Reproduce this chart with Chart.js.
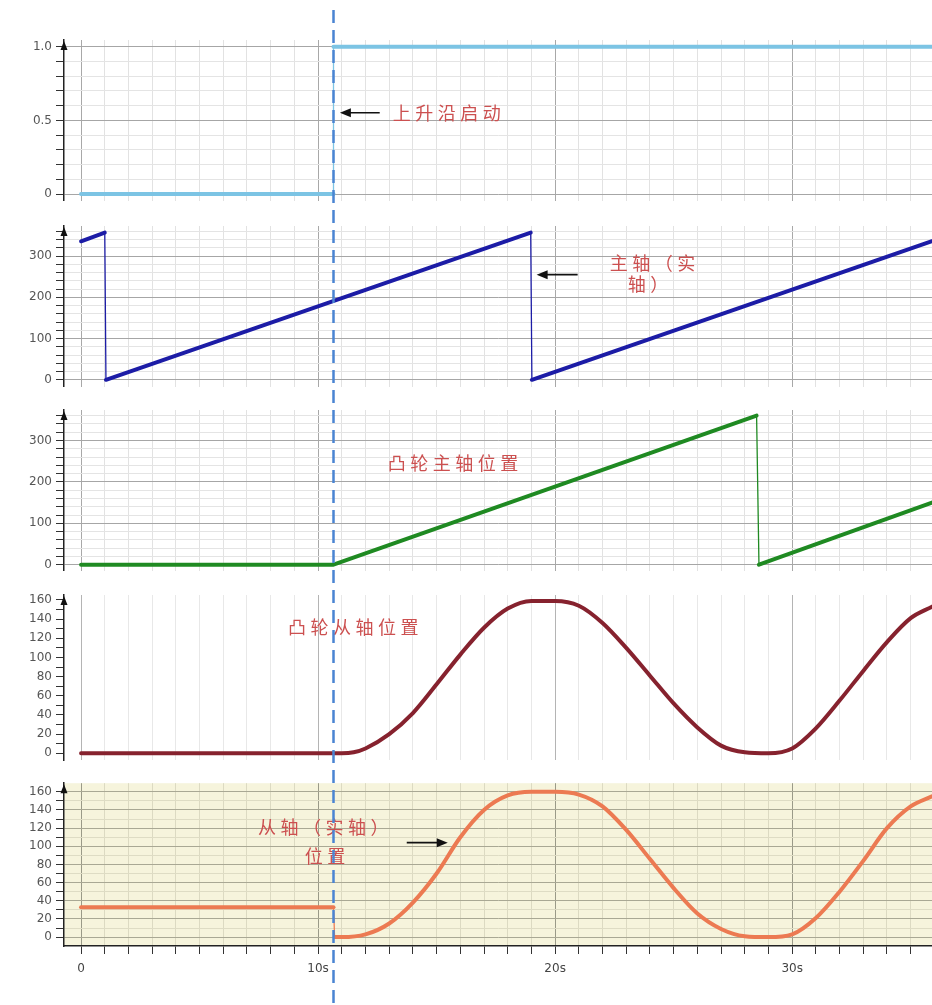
<!DOCTYPE html>
<html>
<head>
<meta charset="utf-8">
<script src="https://cdn.jsdelivr.net/npm/chart.js@4.4.0/dist/chart.umd.min.js"></script>
<style>
  body { margin: 0; background: #fff; }
  #wrap { position: relative; width: 932px; height: 1005px; overflow: hidden; }
  #wrap canvas { position: absolute; left: 0; }
</style>
</head>
<body>
<div id="wrap">
  <canvas id="p1" width="932" height="212" style="top:0px"></canvas>
  <canvas id="p2" width="932" height="186" style="top:212px"></canvas>
  <canvas id="p3" width="932" height="184" style="top:398px"></canvas>
  <canvas id="p4" width="932" height="190" style="top:582px"></canvas>
  <canvas id="p5" width="932" height="233" style="top:772px"></canvas>
</div>
<script>
// Shared time axis (seconds)
var tMin = -0.72, tMax = 35.9;
var triggerTime = 10.65;

// Rising edge trigger
var trigT = [0, 10.65, 10.65, 35.9];
var trigV = [0, 0, 1, 1];

// Master axis (real axis) position
var masterT = [0, 1.0, 1.05, 18.97, 19.02, 35.9];
var masterV = [336, 357, 0, 357, 0, 336];

// Cam master position
var camMasterT = [0, 10.65, 28.5, 28.6, 35.9];
var camMasterV = [0, 0, 360, 0, 150];

// Cam slave position
var camSlaveT = [0, 10.65, 11, 11.5, 12, 13, 14, 15, 16, 17, 18, 19, 20, 21, 22, 23, 24, 25, 26, 27, 28, 29, 30, 31, 32, 33, 34, 35, 35.9];
var camSlaveV = [0, 0, 0, 1, 5, 20, 42, 72, 103, 131, 151, 159, 159, 154, 136, 110, 81, 52, 27, 8, 1, 0, 5, 26, 55, 86, 116, 141, 153];

// Slave axis (real axis) position
var slaveT = [0, 10.65, 10.7, 11, 12, 13, 14, 15, 16, 17, 18, 19, 20, 21, 22, 23, 24, 25, 26, 27, 28, 29, 30, 31, 32, 33, 34, 35, 35.9];
var slaveV = [33, 33, 0, 0, 3, 15, 38, 70, 110, 140, 156, 160, 160, 157, 144, 118, 86, 54, 26, 9, 1, 0, 3, 21, 50, 84, 120, 144, 155];

// Annotation texts (anchored in data coords of their panel)
var notes1 = [{ text: '上升沿启动', t: 13.15, v: 0.55 }];
var notes2 = [{ text: '主轴（实', t: 22.3, v: 283 }, { text: '轴）', t: 23.06, v: 231 }];
var notes3 = [{ text: '凸轮主轴位置', t: 12.94, v: 246 }];
var notes4 = [{ text: '凸轮从轴位置', t: 8.73, v: 132 }];
var notes5 = [{ text: '从轴（实轴）', t: 7.46, v: 121 }, { text: '位置', t: 9.44, v: 89 }];

var arrows1 = [{ t0: 12.6, t1: 10.92, v: 0.552 }];
var arrows2 = [{ t0: 20.95, t1: 19.22, v: 255 }];
var arrows5 = [{ t0: 13.74, t1: 15.47, v: 104 }];

var TICK_FONT = { family: 'DejaVu Sans', size: 12 };
var NOTE_COLOR = '#cc5050';

function toPoints(ts, vs) {
  return ts.map(function (t, i) { return { x: t, y: vs[i] }; });
}

// Draws axis arrow, notes, arrows and the dashed trigger line
function makeOverlay(cfg) {
  return {
    id: 'overlay',
    beforeDraw: function (chart) {
      if (!cfg.background) return;
      var a = chart.chartArea;
      chart.ctx.save();
      chart.ctx.fillStyle = cfg.background;
      chart.ctx.fillRect(a.left, a.top, a.right - a.left, a.bottom - a.top);
      chart.ctx.restore();
    },
    afterDraw: function (chart) {
      var ctx = chart.ctx, a = chart.chartArea;
      var xs = chart.scales.x, ys = chart.scales.y;
      ctx.save();

      // arrow head on top of the y axis
      ctx.fillStyle = '#111';
      ctx.beginPath();
      ctx.moveTo(a.left, a.top + 1);
      ctx.lineTo(a.left - 3.5, a.top + 10);
      ctx.lineTo(a.left + 3.5, a.top + 10);
      ctx.closePath();
      ctx.fill();

      // red notes, drawn char by char for the wide spacing
      ctx.fillStyle = NOTE_COLOR;
      ctx.font = '18px "Noto Sans CJK SC"';
      ctx.textBaseline = 'middle';
      ctx.textAlign = 'left';
      (cfg.notes || []).forEach(function (n) {
        var x = xs.getPixelForValue(n.t), y = ys.getPixelForValue(n.v);
        for (var i = 0; i < n.text.length; i++) {
          ctx.fillText(n.text[i], x + i * 22.5, y);
        }
      });

      // black pointer arrows
      ctx.strokeStyle = '#111';
      ctx.fillStyle = '#111';
      ctx.lineWidth = 1.6;
      (cfg.arrows || []).forEach(function (ar) {
        var x0 = xs.getPixelForValue(ar.t0), x1 = xs.getPixelForValue(ar.t1);
        var y = ys.getPixelForValue(ar.v);
        var dir = x1 > x0 ? 1 : -1;
        ctx.beginPath();
        ctx.moveTo(x0, y);
        ctx.lineTo(x1 - dir * 6, y);
        ctx.stroke();
        ctx.beginPath();
        ctx.moveTo(x1, y);
        ctx.lineTo(x1 - dir * 11, y - 4.5);
        ctx.lineTo(x1 - dir * 11, y + 4.5);
        ctx.closePath();
        ctx.fill();
      });

      // dashed trigger line running through every panel
      var dx = xs.getPixelForValue(triggerTime);
      ctx.strokeStyle = '#4a84d2';
      ctx.lineWidth = 2.5;
      ctx.setLineDash([13, 7]);
      ctx.lineDashOffset = cfg.top === 0 ? 0 : cfg.top - 10;
      ctx.beginPath();
      ctx.moveTo(dx, cfg.top === 0 ? 10 : 0);
      ctx.lineTo(dx, chart.height);
      ctx.stroke();

      ctx.restore();
    }
  };
}

function makePanel(canvasId, cfg) {
  var isBottom = !!cfg.bottomAxis;
  return new Chart(document.getElementById(canvasId), {
    type: 'line',
    data: {
      datasets: [{
        data: toPoints(cfg.t, cfg.v),
        borderColor: cfg.color,
        borderWidth: 4,
        borderCapStyle: 'round',
        borderJoinStyle: 'round',
        pointRadius: 0,
        tension: 0,
        cubicInterpolationMode: cfg.smooth ? 'monotone' : 'default',
        fill: false,
        segment: {
          // vertical drops are thin lines in the original trace
          borderWidth: function (ctx) {
            return Math.abs(ctx.p1.parsed.x - ctx.p0.parsed.x) < 0.15 ? 1.3 : 4;
          }
        }
      }]
    },
    options: {
      responsive: false,
      animation: false,
      events: [],
      layout: { padding: { top: cfg.padTop, left: 0, right: 0, bottom: 0 } },
      plugins: { legend: { display: false }, tooltip: { enabled: false } },
      scales: {
        x: {
          type: 'linear',
          min: tMin,
          max: tMax,
          afterFit: function (scale) { scale.height = cfg.xHeight; },
          border: { display: isBottom, color: '#222', width: 1.5 },
          grid: {
            drawTicks: isBottom,
            tickLength: 8,
            tickColor: '#333',
            color: function (c) {
              return c.tick && c.tick.value % 10 === 0 ? cfg.xMajor : cfg.xMinor;
            }
          },
          ticks: {
            display: isBottom,
            stepSize: 1,
            autoSkip: false,
            includeBounds: false,
            maxRotation: 0,
            padding: 8,
            color: '#444',
            font: { family: 'DejaVu Sans', size: 12 },
            callback: function (v) {
              if (v % 10 !== 0) return '';
              return v === 0 ? '0' : v + 's';
            }
          }
        },
        y: {
          min: cfg.yMin,
          max: cfg.yMax,
          afterFit: function (scale) { scale.width = 64; },
          border: { display: true, color: '#222', width: 1.5 },
          grid: {
            tickLength: 8,
            tickColor: '#333',
            color: function (c) {
              if (!c.tick) return 'rgba(0,0,0,0)';
              return cfg.isMajor(c.tick.value) ? cfg.yMajor : cfg.yMinor;
            }
          },
          ticks: {
            stepSize: cfg.yStep,
            autoSkip: false,
            includeBounds: false,
            padding: 4,
            color: '#555',
            font: TICK_FONT,
            callback: function (v) { return cfg.isMajor(v) ? cfg.fmt(v) : ''; }
          }
        }
      }
    },
    plugins: [makeOverlay(cfg)]
  });
}

// Trigger signal
makePanel('p1', {
  top: 0, padTop: 40, xHeight: 4,
  t: trigT, v: trigV, color: '#7cc4e4',
  yMin: -0.0455, yMax: 1.0455, yStep: 0.1,
  isMajor: function (v) { return Math.abs(v * 2 - Math.round(v * 2)) < 1e-6; },
  fmt: function (v) { return v === 0 ? '0' : v.toFixed(1); },
  yMajor: '#a6a6a6', yMinor: '#e4e4e4', xMajor: '#a8a8a8', xMinor: '#e2e2e2',
  notes: notes1, arrows: arrows1
});

// Master axis
makePanel('p2', {
  top: 212, padTop: 14, xHeight: 5,
  t: masterT, v: masterV, color: '#1c1ca6',
  yMin: -17, yMax: 373, yStep: 20,
  isMajor: function (v) { return v % 100 === 0; },
  fmt: function (v) { return String(v); },
  yMajor: '#a6a6a6', yMinor: '#e4e4e4', xMajor: '#a8a8a8', xMinor: '#e2e2e2',
  notes: notes2, arrows: arrows2
});

// Cam master position
makePanel('p3', {
  top: 398, padTop: 12, xHeight: 5,
  t: camMasterT, v: camMasterV, color: '#1f8a22',
  yMin: -14.7, yMax: 373.7, yStep: 20,
  isMajor: function (v) { return v % 100 === 0; },
  fmt: function (v) { return String(v); },
  yMajor: '#a6a6a6', yMinor: '#e4e4e4', xMajor: '#a8a8a8', xMinor: '#e2e2e2',
  notes: notes3
});

// Cam slave position
makePanel('p4', {
  top: 582, padTop: 13, xHeight: 12, smooth: true,
  t: camSlaveT, v: camSlaveV, color: '#86222e',
  yMin: -7, yMax: 165.2, yStep: 10,
  isMajor: function (v) { return v % 20 === 0; },
  fmt: function (v) { return String(v); },
  yMajor: 'rgba(0,0,0,0)', yMinor: 'rgba(0,0,0,0)', xMajor: '#b4b4b4', xMinor: '#e8e8e8',
  notes: notes4
});

// Slave axis (real axis) position
makePanel('p5', {
  top: 772, padTop: 4, xHeight: 59, bottomAxis: true, smooth: true,
  t: slaveT, v: slaveV, color: '#ec7a52',
  yMin: -9.8, yMax: 169.5, yStep: 10,
  isMajor: function (v) { return v % 20 === 0; },
  fmt: function (v) { return String(v); },
  yMajor: '#a9a894', yMinor: '#dedcc4', xMajor: '#9a9a88', xMinor: '#dcdac2',
  background: '#f6f4dc',
  notes: notes5, arrows: arrows5
});
</script>
</body>
</html>
